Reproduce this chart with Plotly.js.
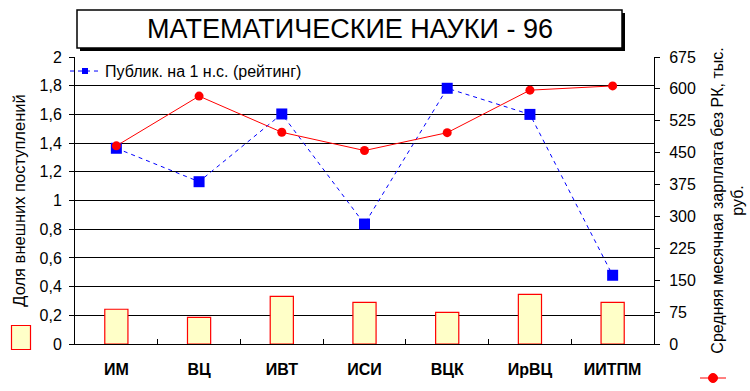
<!DOCTYPE html>
<html><head><meta charset="utf-8">
<script src="https://cdn.plot.ly/plotly-3.0.1.min.js"></script>
<style>body{margin:0;background:#fff}#c{width:750px;height:391px}</style>
</head><body><div id="c"></div>
<script>
const categories = ['ИМ','ВЦ','ИВТ','ИСИ','ВЦК','ИрВЦ','ИИТПМ'];
const externalShare = [0.242, 0.186, 0.332, 0.29, 0.221, 0.346, 0.29];
const salary = [466, 583, 498, 455, 497, 597, 607];
const pubRating = [1.364, 1.131, 1.603, 0.836, 1.782, 1.60, 0.479];
const leftTicks = [0,0.2,0.4,0.6,0.8,1,1.2,1.4,1.6,1.8,2];
const rightTicks = [0,75,150,225,300,375,450,525,600,675];
const pubName = 'Публик. на 1 н.с. (рейтинг)';

const F = 'Liberation Sans, Arial, sans-serif';
const data = [
  {type:'bar', x:categories, y:externalShare, width:0.28, showlegend:false,
   marker:{color:'#FFFFC8', line:{color:'#FF0000', width:1.2}}, yaxis:'y'},
  {type:'scatter', mode:'lines+markers', x:categories, y:salary, yaxis:'y2', showlegend:false,
   line:{color:'#FF0000', width:1}, marker:{color:'#FF0000', size:9, symbol:'circle'}},
  {type:'scatter', mode:'lines+markers', x:categories, y:pubRating, yaxis:'y', showlegend:false,
   name:pubName,
   line:{color:'#0000FF', width:1, dash:'4px,4px'}, marker:{color:'#0000FF', size:11, symbol:'square'}},
  {type:'scatter', mode:'lines+markers', x:[null], y:[null], yaxis:'y', showlegend:true,
   name:pubName, hoverinfo:'skip',
   line:{color:'#0000FF', width:1, dash:'4px,4px'}, marker:{color:'#0000FF', size:6, symbol:'square'}}
];
function px(x){return (x-75)/579;}
function py(y){return (344-y)/287;}
const layout = {
  width:750, height:391, separators:', ',
  margin:{l:75, r:96, t:57, b:47},
  paper_bgcolor:'#fff', plot_bgcolor:'#fff',
  font:{family:F, size:16, color:'#000'},
  showlegend:true,
  legend:{x:px(65), y:1.01, xanchor:'left', yanchor:'top', bgcolor:'rgba(0,0,0,0)',
    font:{family:F,size:16}},
  xaxis:{type:'category', tickson:'boundaries', ticks:'inside', ticklen:5, tickcolor:'#000',
    showline:true, linecolor:'#000', linewidth:1, showgrid:false, zeroline:false,
    tickfont:{family:F, size:16, color:'#000', weight:'bold'}, ticklabelstandoff:11, fixedrange:true},
  yaxis:{range:[0,2], tickvals:leftTicks, ticks:'outside', ticklen:5, tickcolor:'#000',
    showline:true, linecolor:'#000', showgrid:true, gridcolor:'#000', gridwidth:1, zeroline:false,
    ticklabelstandoff:4,
    tickfont:{family:F, size:16}, title:{text:'Доля внешних поступлений', font:{family:F,size:16.5}, standoff:9}},
  yaxis2:{range:[0,675], tickvals:rightTicks, overlaying:'y', side:'right', ticks:'outside', ticklen:5,
    tickcolor:'#000', showline:true, linecolor:'#000', showgrid:false, zeroline:false,
    ticklabelstandoff:6,
    tickfont:{family:F, size:16},
    title:{text:'Средняя месячная зарплата без РК, тыс.<br>руб.', font:{family:F,size:16}, standoff:16}},
  shapes:[
    {type:'rect', xref:'paper', yref:'paper', x0:px(80), x1:px(625), y0:py(13), y1:py(51),
     fillcolor:'#000', line:{width:0}},
    {type:'rect', xref:'paper', yref:'paper', x0:px(77), x1:px(622), y0:py(10), y1:py(48),
     fillcolor:'#fff', line:{color:'#000', width:1.5}},
    {type:'rect', xref:'paper', yref:'paper', x0:px(11.5), x1:px(30.5), y0:py(325.5), y1:py(349.5),
     fillcolor:'#FFFFC8', line:{color:'#FF0000', width:1.2}},
    {type:'line', xref:'paper', yref:'paper', x0:px(700), x1:px(726), y0:py(378), y1:py(378),
     line:{color:'#FF0000', width:1}},
    {type:'circle', xref:'paper', yref:'paper', x0:px(708.5), x1:px(717.5), y0:py(373.5), y1:py(382.5),
     fillcolor:'#FF0000', line:{color:'#FF0000', width:1}}
  ],
  annotations:[
    {text:'МАТЕМАТИЧЕСКИЕ НАУКИ - 96', xref:'paper', yref:'paper', x:px(350), y:py(29),
     xanchor:'center', yanchor:'middle', showarrow:false, font:{family:F, size:27, color:'#000'}}
  ]
};
Plotly.newPlot('c', data, layout, {displayModeBar:false, staticPlot:true});
</script></body></html>
